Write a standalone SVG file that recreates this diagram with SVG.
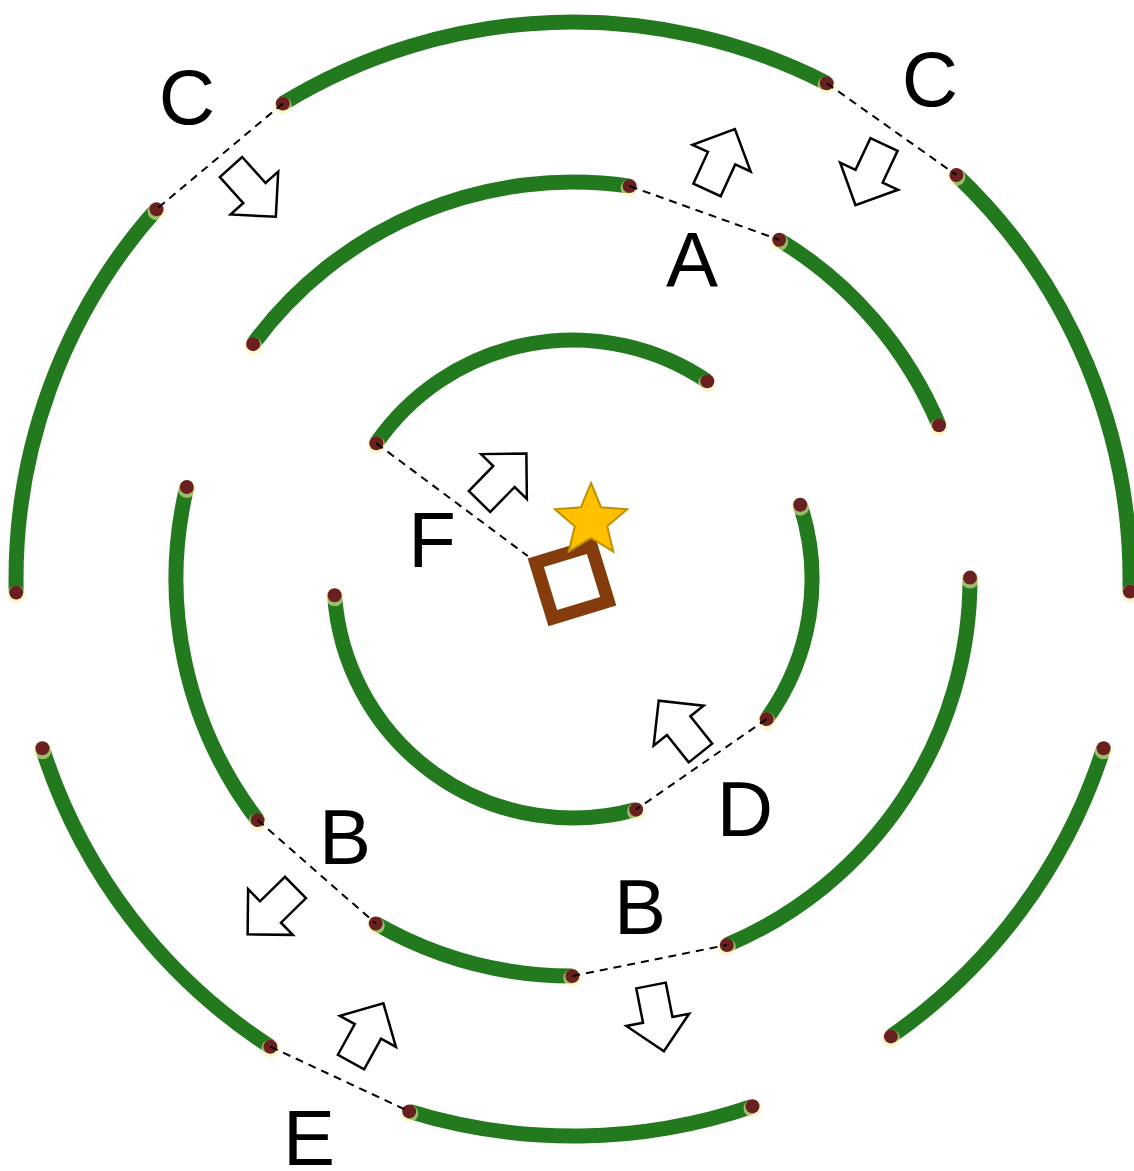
<svg xmlns="http://www.w3.org/2000/svg" width="1134" height="1171" viewBox="0 0 1134 1171">
<style>
.arc{fill:none;stroke:#237a1e;stroke-width:15;stroke-linecap:butt}
.end{fill:#6a2020}
.glow{fill:#fff2a8;opacity:0.55}
.dash{fill:none;stroke:#000;stroke-width:2;stroke-dasharray:8 6}
.arw{fill:#fff;stroke:#000;stroke-width:2.5;stroke-linejoin:miter}
.lbl{font-family:"Liberation Sans",Arial,sans-serif;font-size:78px;fill:#000;text-anchor:middle}
</style>
<defs>
<path id="blk" d="M0,-15 L35,-15 L35,-32 L67,0 L35,32 L35,15 L0,15 Z"/>
</defs>
<rect width="1134" height="1171" fill="#fff"/>
<g id="rings">
<g id="outer">
<path class="arc" d="M282.8,103.5 A557,557 0 0 1 826.7,83.2"/>
<path class="arc" d="M16.2,592.6 A557,557 0 0 1 156.5,209.2"/>
<path class="arc" d="M956.4,175 A557,557 0 0 1 1129.9,591.6"/>
<path class="arc" d="M1103.6,748.3 A557,557 0 0 1 890.9,1036.4"/>
<path class="arc" d="M752.5,1106.3 A557,557 0 0 1 409.2,1111.4"/>
<path class="arc" d="M270.4,1046.7 A557,557 0 0 1 42.4,748.3"/>
</g>
<g id="middle">
<path class="arc" d="M253.1,344 A397,397 0 0 1 629.6,186.1"/>
<path class="arc" d="M779.2,239.8 A397,397 0 0 1 939,425.2"/>
<path class="arc" d="M970,577.6 A397,397 0 0 1 726.8,945"/>
<path class="arc" d="M572.3,976 A397,397 0 0 1 375.7,923.5"/>
<path class="arc" d="M257.6,820.1 A397,397 0 0 1 186.8,487"/>
</g>
<g id="inner">
<path class="arc" d="M376.3,443.3 A239,239 0 0 1 707.3,381.3"/>
<path class="arc" d="M800.2,504.7 A239,239 0 0 1 766.6,719.1"/>
<path class="arc" d="M636.1,809.5 A239,239 0 0 1 334.6,595.3"/>
</g>
<g id="ends">
<g class="glow">
<circle cx="282.8" cy="105.5" r="9"/><circle cx="826.7" cy="85.2" r="9"/>
<circle cx="16.2" cy="594.6" r="9"/><circle cx="156.5" cy="211.2" r="9"/>
<circle cx="956.4" cy="177" r="9"/><circle cx="1129.9" cy="593.6" r="9"/>
<circle cx="1103.6" cy="750.3" r="9"/><circle cx="890.9" cy="1038.4" r="9"/>
<circle cx="752.5" cy="1108.3" r="9"/><circle cx="409.2" cy="1113.4" r="9"/>
<circle cx="270.4" cy="1048.7" r="9"/><circle cx="42.4" cy="750.3" r="9"/>
<circle cx="253.1" cy="346" r="9"/><circle cx="629.6" cy="188.1" r="9"/>
<circle cx="779.2" cy="241.8" r="9"/><circle cx="939" cy="427.2" r="9"/>
<circle cx="970" cy="579.6" r="9"/><circle cx="726.8" cy="947" r="9"/>
<circle cx="572.3" cy="978" r="9"/><circle cx="375.7" cy="925.5" r="9"/>
<circle cx="257.6" cy="822.1" r="9"/><circle cx="186.8" cy="489" r="9"/>
<circle cx="376.3" cy="445.3" r="9"/><circle cx="707.3" cy="383.3" r="9"/>
<circle cx="800.2" cy="506.7" r="9"/><circle cx="766.6" cy="721.1" r="9"/>
<circle cx="636.1" cy="811.5" r="9"/><circle cx="334.6" cy="597.3" r="9"/>
</g>
<g class="end">
<circle cx="282.8" cy="103.5" r="7"/><circle cx="826.7" cy="83.2" r="7"/>
<circle cx="16.2" cy="592.6" r="7"/><circle cx="156.5" cy="209.2" r="7"/>
<circle cx="956.4" cy="175" r="7"/><circle cx="1129.9" cy="591.6" r="7"/>
<circle cx="1103.6" cy="748.3" r="7"/><circle cx="890.9" cy="1036.4" r="7"/>
<circle cx="752.5" cy="1106.3" r="7"/><circle cx="409.2" cy="1111.4" r="7"/>
<circle cx="270.4" cy="1046.7" r="7"/><circle cx="42.4" cy="748.3" r="7"/>
<circle cx="253.1" cy="344" r="7"/><circle cx="629.6" cy="186.1" r="7"/>
<circle cx="779.2" cy="239.8" r="7"/><circle cx="939" cy="425.2" r="7"/>
<circle cx="970" cy="577.6" r="7"/><circle cx="726.8" cy="945" r="7"/>
<circle cx="572.3" cy="976" r="7"/><circle cx="375.7" cy="923.5" r="7"/>
<circle cx="257.6" cy="820.1" r="7"/><circle cx="186.8" cy="487" r="7"/>
<circle cx="376.3" cy="443.3" r="7"/><circle cx="707.3" cy="381.3" r="7"/>
<circle cx="800.2" cy="504.7" r="7"/><circle cx="766.6" cy="719.1" r="7"/>
<circle cx="636.1" cy="809.5" r="7"/><circle cx="334.6" cy="595.3" r="7"/>
</g>
</g>
</g>
<g id="connectors">
<line class="dash" x1="282.8" y1="103.5" x2="156.5" y2="209.2"/>
<line class="dash" x1="826.7" y1="83.2" x2="956.4" y2="175"/>
<line class="dash" x1="629.6" y1="186.1" x2="779.2" y2="239.8"/>
<line class="dash" x1="376.3" y1="443.3" x2="527.7" y2="556"/>
<line class="dash" x1="766.6" y1="719.1" x2="636.1" y2="809.5"/>
<line class="dash" x1="257.6" y1="820.1" x2="375.7" y2="923.5"/>
<line class="dash" x1="572.3" y1="976" x2="726.8" y2="945"/>
<line class="dash" x1="270.4" y1="1046.7" x2="409.2" y2="1111.4"/>
</g>
<g id="arrows">
<use href="#blk" class="arw" transform="translate(231,167) rotate(48)"/>
<use href="#blk" class="arw" transform="translate(707,190) rotate(-65.4)"/>
<use href="#blk" class="arw" transform="translate(884,144.5) rotate(115.2)"/>
<use href="#blk" class="arw" transform="translate(479.5,501.5) rotate(-45.6)"/>
<use href="#blk" class="arw" transform="translate(700.5,753) rotate(-128.6)"/>
<use href="#blk" class="arw" transform="translate(295.5,887.5) rotate(135.6)"/>
<use href="#blk" class="arw" transform="translate(651,985.5) rotate(78.9)"/>
<use href="#blk" class="arw" transform="translate(351,1062) rotate(-61.1)"/>
</g>
<g id="start">
<rect x="-29" y="-29" width="58" height="58" fill="none" stroke="#843c0c" stroke-width="13" transform="translate(572,582) rotate(-17)"/>
</g>
<g id="goal">
<polygon points="591,483 601,507.2 627.1,509.3 607.2,526.3 613.3,551.7 591,538 568.7,551.7 574.8,526.3 554.9,509.3 581,507.2" fill="#ffc000" stroke="#bf9000" stroke-width="2" stroke-linejoin="miter"/>
</g>
<g id="labels">
<text class="lbl" x="187" y="124">C</text>
<text class="lbl" x="930" y="106">C</text>
<text class="lbl" x="692" y="287">A</text>
<text class="lbl" x="432" y="567">F</text>
<text class="lbl" x="745" y="836">D</text>
<text class="lbl" x="345" y="864">B</text>
<text class="lbl" x="640" y="934">B</text>
<text class="lbl" x="309" y="1165">E</text>
</g>
</svg>
